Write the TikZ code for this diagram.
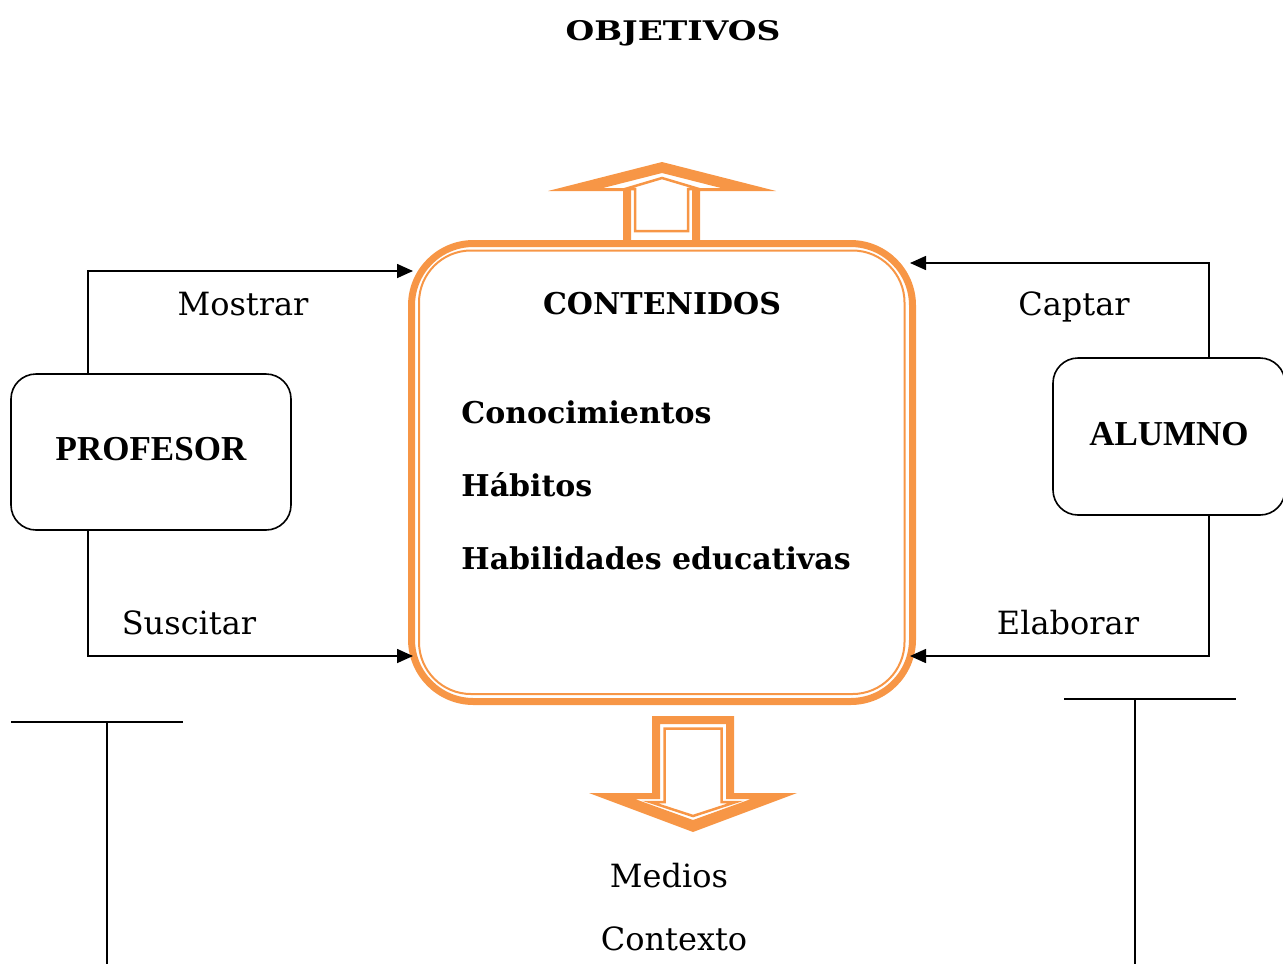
\documentclass[tikz,border=0pt]{standalone}
\usepackage{fontspec}
\setmainfont{DejaVu Serif}
\newfontfamily\timesfont{Liberation Serif}
\usepackage{tikz}
\usetikzlibrary{arrows.meta,calc,positioning}
\definecolor{naranja}{HTML}{F79646}

\begin{document}
\begin{tikzpicture}[x=0.5pt,y=-0.5pt,
    actor/.style={rectangle, draw, line width=0.8pt, rounded corners=12.5pt, align=center, font=\timesfont\bfseries\fontsize{17.5}{20}\selectfont},
    caja/.style={rectangle, draw=naranja, line width=3.5pt, rounded corners=31pt, minimum width=250.5pt, minimum height=229pt},
    verbo/.style={anchor=base, inner sep=0pt, font=\fontsize{16}{20}\selectfont},
    tema/.style={anchor=base west, inner sep=0pt, font=\bfseries\fontsize{15}{18}\selectfont},
    flecha/.style={-{Triangle[length=8pt,width=7pt]}, line width=0.8pt},
    linea/.style={line width=0.8pt}
]
    \useasboundingbox (0,0) rectangle (1283,964);

    % titulo
    \node[anchor=base, inner sep=0pt, font=\bfseries\fontsize{13.5}{15}\selectfont] (obj) at (673,40) {\scalebox{1.22}[1]{OBJETIVOS}};

    % contenidos
    \node[caja] (cont) at (662,472.5) {};
    \draw[naranja, line width=1pt, rounded corners=26pt] ($(cont.north west)+(11,10.5)$) rectangle ($(cont.south east)+(-11.5,-11)$);
    \node[anchor=base, inner sep=0pt, font=\bfseries\fontsize{15}{18}\selectfont] (titcont) at (662,314) {CONTENIDOS};
    \node[tema] (conoc) at (461,423) {Conocimientos};
    \node[tema] (habit) at (461,496) {Hábitos};
    \node[tema] (habil) at (461,569) {Habilidades educativas};

    % flecha arriba
    \fill[naranja, even odd rule]
        (623,240) -- (623,191) -- (548,191) -- (662,162) -- (776,191) -- (700,191) -- (700,240) -- cycle
        (631,240) -- (631,188) -- (603,188) -- (662,173) -- (721,188) -- (692,188) -- (692,240) -- cycle;
    \draw[naranja, line width=1.25pt]
        (635,231) -- (635,189) -- (625,189) -- (662,178) -- (699,189) -- (688,189) -- (688,231) -- cycle;

    % flecha abajo
    \fill[naranja, even odd rule]
        (652,716) -- (734,716) -- (734,793) -- (797,793) -- (693,832) -- (589,793) -- (652,793) -- cycle
        (660,724) -- (726,724) -- (726,799) -- (751,799) -- (693,820) -- (635,799) -- (660,799) -- cycle;
    \draw[naranja, line width=1.25pt]
        (664.5,728.5) -- (721.5,728.5) -- (721.5,802) -- (736,802) -- (693,816) -- (650,802) -- (664.5,802) -- cycle;

    \node[verbo] (medios) at (669,887) {Medios};
    \node[verbo] (contexto) at (674,950) {Contexto};

    % profesor
    \node[actor, minimum width=140pt, minimum height=78pt] (prof) at (151,452) {\raisebox{3pt}{PROFESOR}};
    \draw[flecha] ($(prof.north)+(-63,0)$) |- ($(cont.north west)+(5,31)$);
    \draw[flecha] ($(prof.south)+(-63,0)$) |- ($(cont.south west)+(5,-49)$);
    \node[verbo] (mostrar) at (243,315) {Mostrar};
    \node[verbo] (suscitar) at (189,634) {Suscitar};

    % alumno
    \node[actor, minimum width=116pt, minimum height=78.5pt] (alum) at (1169,436.5) {\raisebox{3pt}{ALUMNO}};
    \draw[flecha] ($(alum.north)+(40,0)$) |- ($(cont.north east)+(-6,23)$);
    \draw[flecha] ($(alum.south)+(40,0)$) |- ($(cont.south east)+(-6,-49)$);
    \node[verbo] (captar) at (1074,315) {Captar};
    \node[verbo] (elaborar) at (1068,634) {Elaborar};

    % lineas sueltas
    \draw[linea] (11,722) -- (183,722);
    \draw[linea] (107,722) -- (107,964);
    \draw[linea] (1064,699) -- (1236,699);
    \draw[linea] (1135,699) -- (1135,964);
\end{tikzpicture}
\end{document}
